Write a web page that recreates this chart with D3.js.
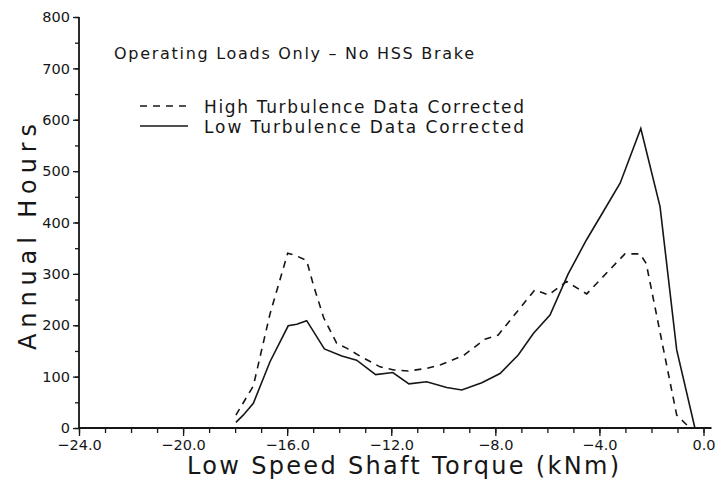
<!DOCTYPE html>
<html>
<head>
<meta charset="utf-8">
<script src="https://cdn.jsdelivr.net/npm/d3@7"></script>
<style>
  body { margin: 0; background: #fff; }
  svg text { font-family: "DejaVu Sans", sans-serif; fill: #161616; }
</style>
</head>
<body>
<div class="chart_wrapper"></div>
<script>

// Low turbulence data corrected (solid)
const lowTorque = [-17.97, -17.69, -17.3, -16.66, -15.96, -15.63, -15.25, -14.57, -13.9, -13.33,
  -12.6, -11.94, -11.32, -10.64, -9.87, -9.29, -8.52, -7.82, -7.12, -6.54,
  -5.9, -5.2, -4.5, -3.9, -3.2, -2.41, -1.67, -1.03, -0.33]
const lowHours = [11, 25, 48, 129, 199, 202, 209, 154, 140, 132,
  104, 108, 86, 90, 79, 74, 88, 106, 142, 184,
  220, 300, 366, 417, 477, 583, 431, 152, 0]

// High turbulence data corrected (dashed)
const highTorque = [-17.97, -17.3, -16.66, -15.98, -15.73, -15.25, -14.99, -14.6, -14.1, -13.7,
  -13.2, -12.43, -11.9, -11.34, -10.64, -10.1, -9.2, -8.4, -7.89, -6.48,
  -5.96, -5.26, -4.49, -3.02, -2.44, -2.2, -1.03, -0.52]
const highHours = [25, 82, 222, 340, 337, 326, 278, 215, 165, 155,
  140, 119, 113, 111, 116, 123, 142, 173, 181, 269,
  259, 285, 261, 339, 339, 320, 25, 0]

const xMajor = [-24, -20, -16, -12, -8, -4, 0]
const yMajor = [0, 100, 200, 300, 400, 500, 600, 700, 800]

const titleText = "Operating Loads Only  \u2013  No HSS Brake"
const legendLabels = ["High Turbulence Data Corrected", "Low Turbulence Data Corrected"]


let dimensions = {
  width: 726,
  height: 484,
  margin: { top: 17, right: 23, bottom: 56, left: 79 },
}
dimensions.boundedWidth = 703.5 - dimensions.margin.left
dimensions.boundedHeight = dimensions.height - dimensions.margin.top - dimensions.margin.bottom

const svg = d3.select(".chart_wrapper")
  .append("svg")
    .attr("width", dimensions.width)
    .attr("height", dimensions.height)

const bounds = svg.append("g")
  .attr("transform", `translate(${dimensions.margin.left},${dimensions.margin.top})`)

const xScale = d3.scaleLinear()
  .domain([-24, 0])
  .range([0, dimensions.boundedWidth])

const yScale = d3.scaleLinear()
  .domain([0, 800])
  .range([dimensions.boundedHeight, 0])

// axes - minor ticks first, then major
const xMinor = d3.range(-24, 1, 1)
bounds.append("g")
  .attr("transform", `translate(0,${dimensions.boundedHeight})`)
  .call(d3.axisBottom(xScale).tickValues(xMinor).tickSize(5).tickFormat(""))
  .call(g => g.select(".domain").remove())

bounds.append("g")
  .attr("class", "xAxis")
  .attr("transform", `translate(0,${dimensions.boundedHeight})`)
  .call(d3.axisBottom(xScale).tickValues(xMajor).tickSize(8).tickPadding(4)
    .tickFormat(d => d < 0 ? "\u2212" + d3.format(".1f")(-d) : d3.format(".1f")(d)))
  .call(g => g.select(".domain").remove())
  .call(g => g.selectAll("text").attr("font-size", 14.5).attr("font-family", "DejaVu Sans").attr("fill", "#161616"))

const yMinor = d3.range(0, 801, 50)
bounds.append("g")
  .call(d3.axisLeft(yScale).tickValues(yMinor).tickSize(4).tickFormat(""))
  .call(g => g.select(".domain").remove())

bounds.append("g")
  .attr("class", "yAxis")
  .call(d3.axisLeft(yScale).tickValues(yMajor).tickSize(6).tickPadding(3))
  .call(g => g.select(".domain").remove())
  .call(g => g.selectAll("text").attr("font-size", 14.5).attr("font-family", "DejaVu Sans").attr("fill", "#161616"))

bounds.selectAll(".tick line").attr("stroke", "#161616").attr("stroke-width", 1.3)

// axis lines
bounds.append("line")
  .attr("x1", 0).attr("x2", xScale(0) + 8)
  .attr("y1", yScale(0)).attr("y2", yScale(0))
  .attr("stroke", "#161616").attr("stroke-width", 1.8)

bounds.append("line")
  .attr("x1", 0).attr("x2", 0)
  .attr("y1", yScale(0)).attr("y2", yScale(800))
  .attr("stroke", "#161616").attr("stroke-width", 1.8)

// lines
const lineGen = d3.line()
  .x(d => xScale(d[0]))
  .y(d => yScale(d[1]))

const highData = d3.zip(highTorque, highHours)
const lowData = d3.zip(lowTorque, lowHours)

bounds.append("path")
  .datum(highData)
  .attr("d", lineGen)
  .attr("fill", "none")
  .attr("stroke", "#161616")
  .attr("stroke-width", 1.6)
  .attr("stroke-dasharray", "7,6")

bounds.append("path")
  .datum(lowData)
  .attr("d", lineGen)
  .attr("fill", "none")
  .attr("stroke", "#161616")
  .attr("stroke-width", 1.6)

// title + legend
svg.append("text")
  .attr("x", 114).attr("y", 59)
  .attr("font-size", 16)
  .attr("textLength", 360).attr("lengthAdjust", "spacing")
  .text(titleText)

const legendRows = [
  { label: legendLabels[0], dash: "7,6", y: 106 },
  { label: legendLabels[1], dash: null, y: 126 },
]
legendRows.forEach(r => {
  svg.append("line")
    .attr("x1", 140).attr("x2", 188)
    .attr("y1", r.y).attr("y2", r.y)
    .attr("stroke", "#161616").attr("stroke-width", 1.6)
    .attr("stroke-dasharray", r.dash)
  svg.append("text")
    .attr("x", 204).attr("y", r.y + 7)
    .attr("font-size", 17)
    .attr("textLength", 320).attr("lengthAdjust", "spacing")
    .text(r.label)
})

// axis titles
svg.append("text")
  .attr("transform", "translate(36,237) rotate(-90)")
  .attr("text-anchor", "middle")
  .attr("font-size", 24)
  .attr("textLength", 226).attr("lengthAdjust", "spacing")
  .text("Annual Hours")

svg.append("text")
  .attr("x", 403).attr("y", 474)
  .attr("text-anchor", "middle")
  .attr("font-size", 24)
  .attr("textLength", 432).attr("lengthAdjust", "spacing")
  .text("Low Speed Shaft Torque (kNm)")

</script>
</body>
</html>
